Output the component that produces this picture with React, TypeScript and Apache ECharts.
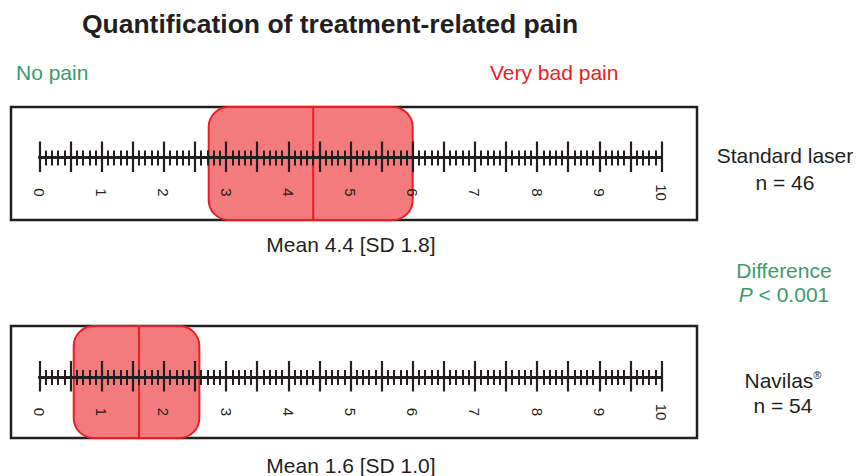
import React, { useEffect, useRef } from "react";
import * as echarts from "echarts";

// ---- data ----
const groups = ["Standard laser", "Navilas®"];
const nValues = [46, 54];
const means = [4.4, 1.6];
const sds = [1.8, 1.0];
const boxLow = [2.72, 0.55];
const boxHigh = [6.0, 2.57];
const scaleMin = 0;
const scaleMax = 10;
const pValue = "< 0.001";

// ---- styles ----
const DARK = "#231f20";
const RED = "#ED1C24";
const FILL = "#F37A7D";
const GREEN = "#3B9B6C";
const FONT = "'Liberation Sans', Arial, Helvetica, sans-serif";

const frames = [
  { x: 11, y: 107, w: 686, h: 113, ruler: 157.5 },
  { x: 11, y: 326, w: 686, h: 112, ruler: 377 },
];

export default function App() {
  const ref = useRef<HTMLDivElement>(null);
  useEffect(() => {
    document.body.style.margin = "0";
    const chart = echarts.init(ref.current!, null, { renderer: "svg" });

    const grids = frames.map((f) => ({
      left: 39.5,
      width: 622,
      top: f.y,
      height: f.ruler - f.y,
      containLabel: false,
    }));

    const xAxes: any[] = [];
    frames.forEach((_, i) => {
      const base = {
        gridIndex: i,
        type: "value",
        min: scaleMin,
        max: scaleMax,
        interval: 0.5,
        position: "bottom",
        z: 5,
        splitLine: { show: false },
        axisLine: { show: true, lineStyle: { color: DARK, width: 2.8 } },
        minorTick: {
          show: true,
          splitNumber: 5,
          length: 8,
          lineStyle: { color: DARK, width: 2 },
        },
        minorSplitLine: { show: false },
      };
      xAxes.push({
        ...base,
        axisTick: { show: true, length: 14.5, lineStyle: { color: DARK, width: 2.2 } },
        axisLabel: {
          show: true,
          rotate: -90,
          margin: 35,
          align: "center",
          verticalAlign: "middle",
          fontSize: 15,
          fontFamily: FONT,
          color: DARK,
          formatter: (v: number) => (Number.isInteger(v) ? String(v) : ""),
        },
      });
      xAxes.push({
        ...base,
        axisTick: { show: true, inside: true, length: 16, lineStyle: { color: DARK, width: 2.2 } },
        minorTick: { ...base.minorTick, length: 7 },
        axisLabel: { show: false },
      });
    });

    const yAxes = frames.map((_, i) => ({
      gridIndex: i,
      type: "value",
      min: 0,
      max: 1,
      show: false,
    }));

    const series = frames.map((f, i) => ({
      type: "custom",
      xAxisIndex: i * 2,
      yAxisIndex: i,
      z: 2,
      clip: false,
      data: [[boxLow[i], boxHigh[i], means[i]]],
      renderItem: (params: any, api: any) => {
        const p0 = api.coord([api.value(0), 1]);
        const p1 = api.coord([api.value(1), 1]);
        const pm = api.coord([api.value(2), 1]);
        const top = params.coordSys.y;
        const h = f.h;
        return {
          type: "group",
          children: [
            {
              type: "rect",
              shape: { x: p0[0], y: top, width: p1[0] - p0[0], height: h, r: 20 },
              style: { fill: FILL, stroke: RED, lineWidth: 2 },
            },
            {
              type: "line",
              shape: { x1: pm[0], y1: top, x2: pm[0], y2: top + h },
              style: { stroke: RED, lineWidth: 2 },
            },
          ],
        };
      },
    }));

    const txt = (text: string, x: number, y: number, opts: any = {}) => ({
      type: "text",
      z: 10,
      style: {
        text,
        x,
        y,
        fill: DARK,
        fontSize: 21,
        fontFamily: FONT,
        align: "center",
        verticalAlign: "middle",
        ...opts,
      },
    });

    const graphic: any[] = [
      ...frames.map((f) => ({
        type: "rect",
        z: 0,
        shape: { x: f.x, y: f.y, width: f.w, height: f.h },
        style: { fill: "#fff", stroke: DARK, lineWidth: 2.5 },
      })),
      txt("Quantification of treatment-related pain", 330, 24, { fontSize: 26.5, fontWeight: "bold" }),
      txt("No pain", 16, 72, { fill: GREEN, align: "left" }),
      txt("Very bad pain", 490, 72, { fill: RED, align: "left" }),
      txt(groups[0], 785, 155),
      txt(`n = ${nValues[0]}`, 785, 182),
      txt("Difference", 784, 270, { fill: GREEN }),
      txt(`{i|P} ${pValue}`, 784, 294, {
        fill: GREEN,
        rich: { i: { fontStyle: "italic", fontSize: 21, fontFamily: FONT, fill: GREEN } },
      }),
      txt(`{a|Navilas}{s|®}`, 783, 380, {
        rich: {
          a: { fontSize: 21, fontFamily: FONT, fill: DARK },
          s: { fontSize: 11, fontFamily: FONT, fill: DARK, padding: [0, 0, 10, 0] },
        },
      }),
      txt(`n = ${nValues[1]}`, 783, 405),
      txt(`Mean ${means[0].toFixed(1)} [SD ${sds[0].toFixed(1)}]`, 351, 244),
      txt(`Mean ${means[1].toFixed(1)} [SD ${sds[1].toFixed(1)}]`, 351, 465),
    ];

    chart.setOption({
      animation: false,
      backgroundColor: "#fff",
      grid: grids,
      xAxis: xAxes,
      yAxis: yAxes,
      series,
      graphic,
    });
    return () => chart.dispose();
  }, []);
  return <div ref={ref} style={{ width: 857, height: 476 }} />;
}
